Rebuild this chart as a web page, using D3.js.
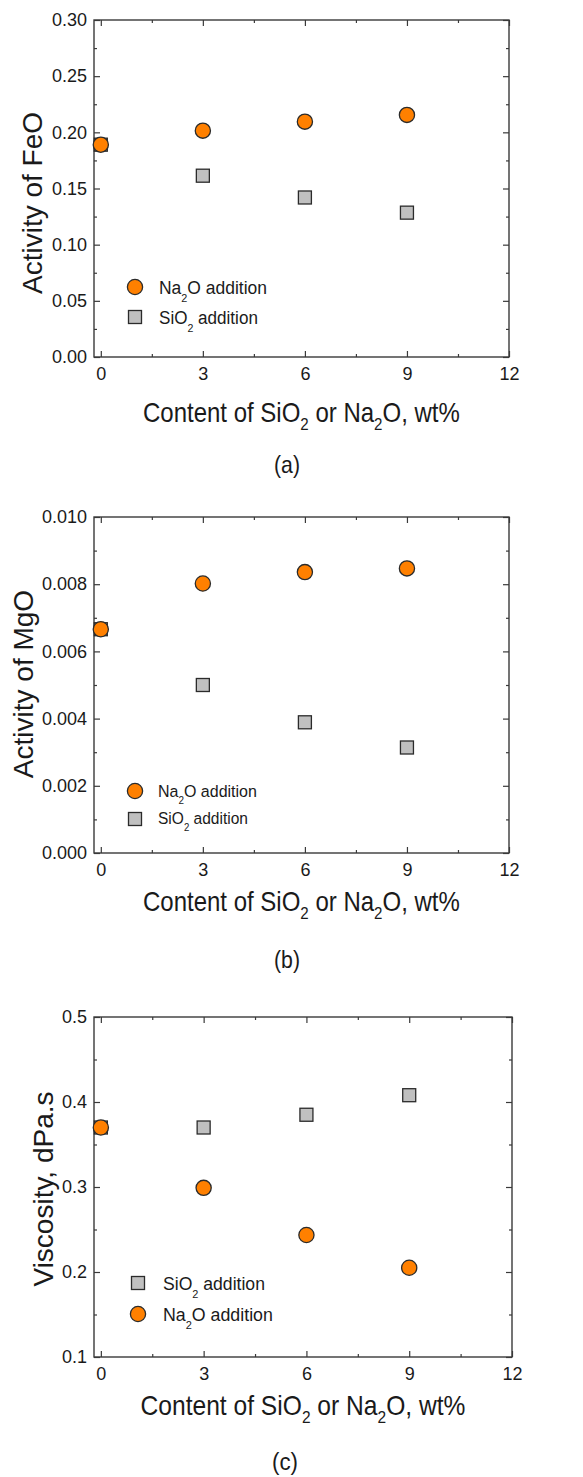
<!DOCTYPE html>
<html>
<head>
<meta charset="utf-8">
<script src="https://cdn.jsdelivr.net/npm/d3@7/dist/d3.min.js"></script>
<style>
  html, body { margin: 0; padding: 0; background: #fff; }
  svg { display: block; }
  text { font-family: Arial, "Liberation Sans", Helvetica, sans-serif; fill: #1a1a1a; }
</style>
</head>
<body>
<svg id="chart" width="583" height="1477"></svg>
<script>
// ---------------- DATA ----------------
const xContent = [0, 3, 6, 9];
const feoNa2O = [0.189, 0.2015, 0.2095, 0.2155];
const feoSiO2 = [0.189, 0.1614, 0.142, 0.1285];
const mgoNa2O = [0.00666, 0.00802, 0.00836, 0.00847];
const mgoSiO2 = [0.00666, 0.0050, 0.00389, 0.00314];
const viscSiO2 = [0.370, 0.370, 0.385, 0.408];
const viscNa2O = [0.370, 0.299, 0.2435, 0.205];

const xTicks = [0, 3, 6, 9, 12];
const xMinorTicks = [1.5, 4.5, 7.5, 10.5];
const yTicksA = [0, 0.05, 0.10, 0.15, 0.20, 0.25, 0.30];
const yMinorA = [0.025, 0.075, 0.125, 0.175, 0.225, 0.275];
const yTicksB = [0, 0.002, 0.004, 0.006, 0.008, 0.010];
const yMinorB = [0.001, 0.003, 0.005, 0.007, 0.009];
const yTicksC = [0.1, 0.2, 0.3, 0.4, 0.5];
const yMinorC = [0.15, 0.25, 0.35, 0.45];

const seriesNames = { na: ["Na", "2", "O addition"], si: ["SiO", "2", " addition"] };
const captions = ["(a)", "(b)", "(c)"];
const yTitles = ["Activity of FeO", "Activity of MgO", "Viscosity, dPa.s"];
const xTitleParts = ["Content of SiO", "2", " or Na", "2", "O, wt%"];

// ---------------- STYLE ----------------
const ORANGE = "#ff8000", GRAY = "#c0c0c0", EDGE = "#2b2b2b", AXIS = "#3a3a3a";

const svg = d3.select("#chart");

function subText(sel, parts, subSize, subShift) {
  parts.forEach((p, i) => {
    const isSub = (i % 2 === 1);
    const ts = sel.append("tspan").text(p);
    if (isSub) ts.attr("font-size", subSize).attr("dy", subShift);
    else if (i > 0) ts.attr("dy", -subShift);
  });
}

// place a text at (x,y) horizontally squeezed to a target width
function fitText(parent, x, y, anchor, fs, targetW, parts, subSize, subShift) {
  const wrap = parent.append("g");
  const t = wrap.append("text").attr("x", 0).attr("y", 0).attr("font-size", fs);
  if (Array.isArray(parts)) subText(t, parts, subSize, subShift); else t.text(parts);
  const w = t.node().getBBox().width;
  const sx = targetW / w;
  const left = anchor === "middle" ? x - targetW / 2 : x;
  wrap.attr("transform", `translate(${left},${y}) scale(${sx},1)`);
  return wrap;
}

function drawPanel(cfg) {
  const g = svg.append("g");
  const x = d3.scaleLinear().domain([-0.2, 12]).range([cfg.x0, cfg.x1]);
  const y = d3.scaleLinear().domain(cfg.yDomain).range([cfg.y1, cfg.y0]);

  const mk = (axisFn, scale, vals, size, pos, labels, fmt, pad) => {
    const a = axisFn(scale).tickValues(vals).tickSize(-size).tickPadding(pad || 0);
    a.tickFormat(labels ? fmt : () => "");
    const ag = g.append("g").attr("transform", pos).call(a);
    ag.select(".domain").remove();
    ag.selectAll(".tick line").attr("stroke", AXIS).attr("stroke-width", 1.2);
    if (!labels) ag.selectAll(".tick text").remove();
    return ag;
  };
  const bx = mk(d3.axisBottom, x, xTicks, 6, `translate(0,${cfg.y1})`, true, d3.format("d"), 10);
  mk(d3.axisBottom, x, xMinorTicks, 3, `translate(0,${cfg.y1})`, false);
  mk(d3.axisTop, x, xTicks, 6, `translate(0,${cfg.y0})`, false);
  mk(d3.axisTop, x, xMinorTicks, 3, `translate(0,${cfg.y0})`, false);
  const ly = mk(d3.axisLeft, y, cfg.yTicks, 6, `translate(${cfg.x0},0)`, true, d3.format(cfg.yFmt), 7);
  mk(d3.axisLeft, y, cfg.yMinor, 3, `translate(${cfg.x0},0)`, false);
  mk(d3.axisRight, y, cfg.yTicks, 6, `translate(${cfg.x1},0)`, false);
  mk(d3.axisRight, y, cfg.yMinor, 3, `translate(${cfg.x1},0)`, false);

  [bx, ly].forEach(s => s.selectAll(".tick text")
      .attr("font-size", 18).attr("font-family", "Arial, 'Liberation Sans', sans-serif")
      .attr("fill", "#1a1a1a"));

  g.append("rect").attr("x", cfg.x0).attr("y", cfg.y0)
    .attr("width", cfg.x1 - cfg.x0).attr("height", cfg.y1 - cfg.y0)
    .attr("fill", "none").attr("stroke", AXIS).attr("stroke-width", 1.4);

  const sq = 13, r = 7.6;
  g.selectAll("rect.sq").data(xContent.map((v, i) => [v, cfg.si[i]])).enter()
    .append("rect").attr("class", "sq")
    .attr("x", d => x(d[0]) - sq / 2).attr("y", d => y(d[1]) - sq / 2)
    .attr("width", sq).attr("height", sq)
    .attr("fill", GRAY).attr("stroke", EDGE).attr("stroke-width", 1.3);
  g.selectAll("circle.ci").data(xContent.map((v, i) => [v, cfg.na[i]])).enter()
    .append("circle").attr("class", "ci")
    .attr("cx", d => x(d[0])).attr("cy", d => y(d[1])).attr("r", r)
    .attr("fill", ORANGE).attr("stroke", EDGE).attr("stroke-width", 1.3);

  cfg.legend.forEach(L => {
    if (L.kind === "na") {
      g.append("circle").attr("cx", L.mx).attr("cy", L.my).attr("r", r)
        .attr("fill", ORANGE).attr("stroke", EDGE).attr("stroke-width", 1.3);
    } else {
      g.append("rect").attr("x", L.mx - sq / 2).attr("y", L.my - sq / 2)
        .attr("width", sq).attr("height", sq)
        .attr("fill", GRAY).attr("stroke", EDGE).attr("stroke-width", 1.3);
    }
    fitText(g, L.tx, L.ty, "start", L.fs, L.tl, seriesNames[L.kind], L.fs * 0.62, L.fs * 0.42);
  });

  fitText(g, (cfg.x0 + cfg.x1) / 2, cfg.xTitleY, "middle", 27, cfg.xTitleLen, xTitleParts, 17, 8);

  g.append("text").attr("transform", `translate(${cfg.yTitleX},${cfg.yTitleCY}) rotate(-90)`)
    .attr("text-anchor", "middle").attr("font-size", 28).text(cfg.yTitle);

  fitText(g, cfg.capX, cfg.capY, "middle", 24, 26, cfg.caption);
}

drawPanel({
  x0: 94, x1: 509, y0: 20, y1: 357, yDomain: [0, 0.30],
  yTicks: yTicksA, yMinor: yMinorA, yFmt: ".2f",
  na: feoNa2O, si: feoSiO2,
  legend: [
    { kind: "na", mx: 135, my: 287, tx: 159, ty: 294, fs: 19, tl: 108 },
    { kind: "si", mx: 135, my: 317, tx: 159, ty: 324, fs: 19, tl: 99 }
  ],
  xTitleY: 422, xTitleLen: 317, yTitle: yTitles[0], yTitleX: 42, yTitleCY: 203,
  caption: captions[0], capX: 287, capY: 473
});

drawPanel({
  x0: 94, x1: 509, y0: 517, y1: 853, yDomain: [0, 0.010],
  yTicks: yTicksB, yMinor: yMinorB, yFmt: ".3f",
  na: mgoNa2O, si: mgoSiO2,
  legend: [
    { kind: "na", mx: 135, my: 791, tx: 158, ty: 797, fs: 17, tl: 99 },
    { kind: "si", mx: 135, my: 819, tx: 158, ty: 824, fs: 17, tl: 90 }
  ],
  xTitleY: 911, xTitleLen: 317, yTitle: yTitles[1], yTitleX: 33, yTitleCY: 684,
  caption: captions[1], capX: 287, capY: 968
});

drawPanel({
  x0: 94, x1: 512, y0: 1017, y1: 1357, yDomain: [0.1, 0.5],
  yTicks: yTicksC, yMinor: yMinorC, yFmt: ".1f",
  na: viscNa2O, si: viscSiO2,
  legend: [
    { kind: "si", mx: 138, my: 1283, tx: 163, ty: 1290, fs: 18.5, tl: 102 },
    { kind: "na", mx: 138, my: 1314, tx: 163, ty: 1321, fs: 18.5, tl: 110 }
  ],
  xTitleY: 1415, xTitleLen: 325, yTitle: yTitles[2], yTitleX: 53, yTitleCY: 1189,
  caption: captions[2], capX: 285, capY: 1470
});
</script>
</body>
</html>
